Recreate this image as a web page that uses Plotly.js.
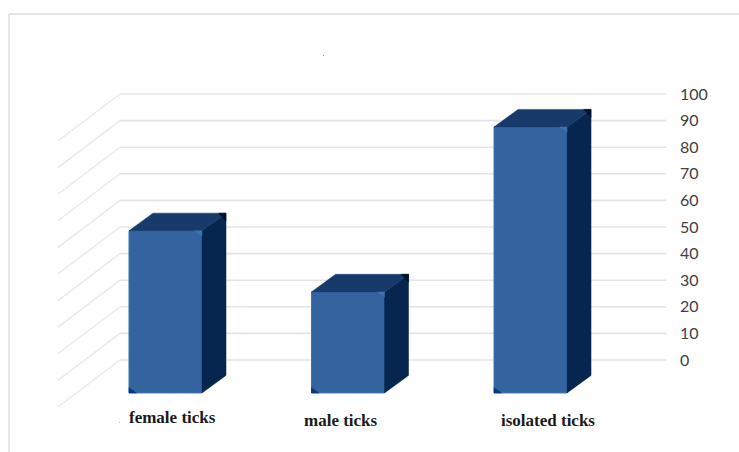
<!DOCTYPE html>
<html>
<head>
<meta charset="utf-8">
<script src="https://cdn.plot.ly/plotly-3.0.1.min.js"></script>
<style>html,body{margin:0;padding:0;background:#fff}#chart{width:739px;height:452px}</style>
</head>
<body>
<div id="chart"></div>
<script>
// Tick counts by group
const categories = ['female ticks', 'male ticks', 'isolated ticks'];
const values = [61, 38, 100];
const tickValues = [0, 10, 20, 30, 40, 50, 60, 70, 80, 90, 100];
const labelShiftX = [0.04, -0.04, 0.095];
const labelLevels = [-21.6, -22.9, -22.9];

// Oblique projection used for the 3D look
const barWidth = 0.4;
const barDepth = { x: 0.1315, y: 6.6 };
const wallDepth = { x: 0.34, y: -17.67 };
const floorValue = -12.4;
const wallLeft = -0.2493;
const wallRight = 2.745;

// Bevel sizes at the box corners
const bevel = { x: 0.04, y: 2 };

const sideX = [], sideY = [], topX = [], topY = [];
const darkX = [], darkY = [], blueX = [], blueY = [], glowX = [], glowY = [];
categories.forEach((_, i) => {
  const r = i + barWidth / 2, l = i - barWidth / 2, t = floorValue + values[i];
  const bx = r + barDepth.x, by = t + barDepth.y;
  sideX.push(r, bx, bx, r, r, null);
  sideY.push(floorValue, floorValue + barDepth.y, by, t, floorValue, null);
  topX.push(l, l + barDepth.x, bx, r, l, null);
  topY.push(t, by, by, t, t, null);
  darkX.push(bx, bx - bevel.x, bx, bx, null);
  darkY.push(by, by, by - bevel.y * 1.5, by, null);
  blueX.push(l, l + bevel.x, l, l, null);
  blueY.push(floorValue, floorValue, floorValue + bevel.y, floorValue, null);
  glowX.push(r, r - bevel.x, r, r, null);
  glowY.push(t, t, t - bevel.y, t, null);
});

const gridStyle = { color: '#e4e4e4', width: 1.6 };
const depthStyle = { color: '#e9e9e9', width: 1.4 };
const gridShapes = [];
tickValues.forEach(v => {
  gridShapes.push({ type: 'line', layer: 'below', xref: 'x', yref: 'y', x0: wallLeft, x1: wallRight, y0: v, y1: v, line: gridStyle });
  gridShapes.push({ type: 'line', layer: 'below', xref: 'x', yref: 'y', x0: wallLeft - wallDepth.x, x1: wallLeft, y0: v + wallDepth.y, y1: v, line: depthStyle });
});

// Outer chart frame, open on the right and at the bottom
const frameStyle = { color: '#e5e5e5', width: 2 };
const decor = [
  { type: 'line', xref: 'paper', yref: 'paper', layer: 'below', x0: 9 / 676, x1: 739 / 676, y0: 438 / 452, y1: 438 / 452, line: frameStyle },
  { type: 'line', xref: 'paper', yref: 'paper', layer: 'below', x0: 9 / 676, x1: 9 / 676, y0: 0, y1: 438 / 452, line: frameStyle },
  // Stray specks on the chart area
  { type: 'rect', xref: 'paper', yref: 'paper', x0: 323 / 676, x1: 324 / 676, y0: 396 / 452, y1: 397 / 452, fillcolor: '#999', line: { width: 0 } },
  { type: 'rect', xref: 'paper', yref: 'paper', x0: 119 / 676, x1: 120 / 676, y0: 29 / 452, y1: 30 / 452, fillcolor: '#bbb', line: { width: 0 } }
];

const polygon = (x, y, color) => ({
  type: 'scatter', mode: 'lines', x, y, fill: 'toself', fillcolor: color,
  line: { color, width: 0.5 }, hoverinfo: 'skip'
});

const traces = [
  {
    type: 'bar', x: [0, 1, 2], y: values, base: values.map(() => floorValue), width: barWidth,
    marker: { color: '#33649f', line: { color: '#3a70b0', width: 1 } }, hoverinfo: 'skip'
  },
  polygon(sideX, sideY, '#06264f'),
  polygon(topX, topY, '#173a6b'),
  polygon(darkX, darkY, '#00102e'),
  polygon(blueX, blueY, '#0b3580'),
  polygon(glowX, glowY, '#3a73b5')
];

const annotations = categories.map((c, i) => ({
  text: c, xref: 'x', yref: 'y', x: i + labelShiftX[i], y: labelLevels[i],
  showarrow: false, font: { family: 'Liberation Serif', size: 17, weight: 'bold', color: '#1a1a1a' }
}));

const layout = {
  width: 739, height: 452, margin: { l: 0, r: 63, t: 0, b: 0 },
  paper_bgcolor: '#fff', plot_bgcolor: '#fff', showlegend: false,
  xaxis: { range: [-0.9068, 2.797], visible: false, fixedrange: true },
  yaxis: {
    side: 'right', range: [-34.6, 135.34], tickvals: tickValues, ticktext: tickValues.map(String),
    showgrid: false, zeroline: false, showline: false, ticks: '', fixedrange: true, ticklabelstandoff: 3,
    tickfont: { family: 'Lato', size: 16, color: '#404040' }
  },
  shapes: gridShapes.concat(decor), annotations
};

Plotly.newPlot('chart', traces, layout, { displayModeBar: false, staticPlot: true });
</script>
</body>
</html>
